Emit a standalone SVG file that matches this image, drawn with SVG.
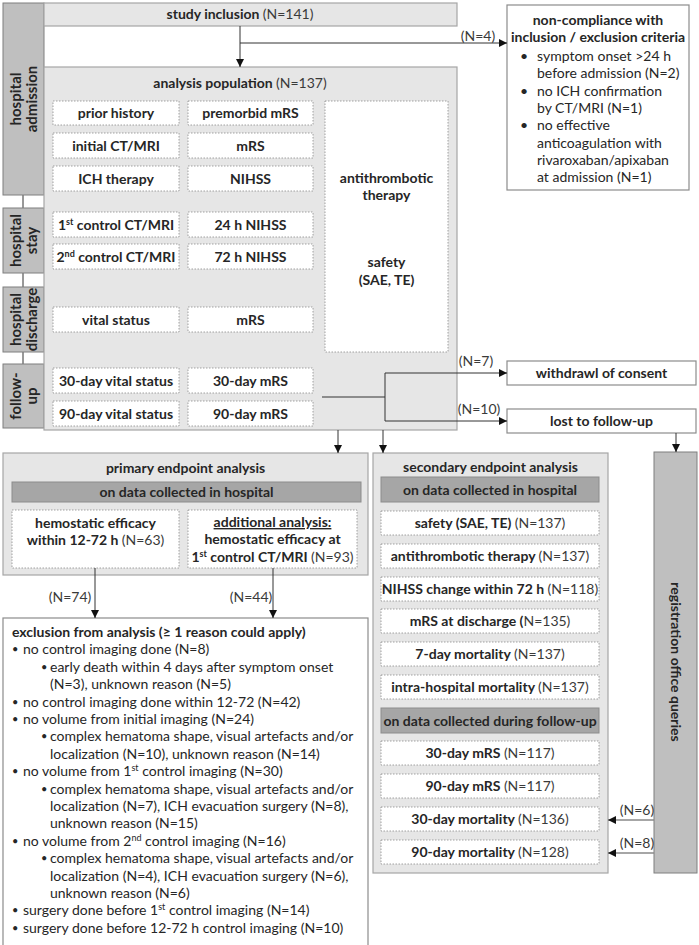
<svg xmlns="http://www.w3.org/2000/svg" width="699" height="945" viewBox="0 0 699 945">
<defs>
<style>
text{font-family:Lato,"Liberation Sans",sans-serif;font-size:14px;fill:#262626}
.b{font-weight:bold}
.n{font-weight:normal;fill:#3a3a3a}
.c{text-anchor:middle}
.sb{fill:#bfbfbf;stroke:#7f7f7f;stroke-width:1}
.st{font-size:15px;font-weight:bold}
.lt{fill:#e6e6e6;stroke:#a6a6a6;stroke-width:1.2}
.dk{fill:#a6a6a6;stroke:#8c8c8c;stroke-width:1}
.dot{fill:#fff;stroke:#8c8c8c;stroke-width:0.8;stroke-dasharray:1.5 1.5}
.wb{fill:#fff;stroke:#8c8c8c;stroke-width:1.2}
.ln{stroke:#333;stroke-width:1;fill:none}
.lg{stroke:#888;stroke-width:1.5;fill:none}
.sup{font-size:9px}
.bu{font-size:11px}
</style>
<marker id="ah" markerWidth="8" markerHeight="8" refX="8" refY="4" orient="auto" markerUnits="userSpaceOnUse">
<path d="M0,0 L8,4 L0,8 z" fill="#111"/>
</marker>
</defs>

<g id="timeline-line"><line class="ln" x1="23" y1="195" x2="23" y2="364"/></g>

<g id="side-admission"><rect class="sb" x="3" y="3" width="41" height="192"/>
<text class="st c" transform="translate(23.5,99) rotate(-90)"><tspan x="0" y="-3">hospital</tspan><tspan x="0" y="13">admission</tspan></text></g>
<g id="side-stay"><rect class="sb" x="3" y="208" width="41" height="65"/>
<text class="st c" transform="translate(23.5,240.5) rotate(-90)"><tspan x="0" y="-3">hospital</tspan><tspan x="0" y="13">stay</tspan></text></g>
<g id="side-discharge"><rect class="sb" x="3" y="287" width="41" height="65"/>
<text class="st c" transform="translate(23.5,319.5) rotate(-90)"><tspan x="0" y="-3">hospital</tspan><tspan x="0" y="13">discharge</tspan></text></g>
<g id="side-followup"><rect class="sb" x="3" y="364" width="41" height="64"/>
<text class="st c" transform="translate(23.5,396) rotate(-90)"><tspan x="0" y="-3">follow-</tspan><tspan x="0" y="13">up</tspan></text></g>

<g id="study-inclusion"><rect class="lt" x="44" y="3" width="413" height="23"/>
<text class="c" x="240" y="19"><tspan class="b">study inclusion </tspan><tspan class="n">(N=141)</tspan></text></g>

<g id="noncompliance"><rect class="wb" x="507" y="5" width="182" height="185"/>
<text class="b c" x="598" y="25">non-compliance with</text>
<text class="b c" x="598" y="42">inclusion / exclusion criteria</text>
<text x="520" y="61">•</text><text x="537" y="61">symptom onset &gt;24 h</text>
<text x="537" y="78">before admission (N=2)</text>
<text x="520" y="96">•</text><text x="537" y="96">no ICH confirmation</text>
<text x="537" y="113">by CT/MRI (N=1)</text>
<text x="520" y="130">•</text><text x="537" y="130">no effective</text>
<text x="537" y="148">anticoagulation with</text>
<text x="537" y="165">rivaroxaban/apixaban</text>
<text x="537" y="182">at admission (N=1)</text></g>

<g id="analysis-population"><rect class="lt" x="44" y="67" width="413" height="363"/>
<text class="c" x="240" y="88"><tspan class="b">analysis population </tspan><tspan class="n">(N=137)</tspan></text>
<rect class="dot" x="53" y="101" width="126" height="24"/><text class="b c" x="116" y="118">prior history</text>
<rect class="dot" x="188" y="101" width="125" height="24"/><text class="b c" x="250.5" y="118">premorbid mRS</text>
<rect class="dot" x="53" y="133" width="126" height="25"/><text class="b c" x="116" y="150.5">initial CT/MRI</text>
<rect class="dot" x="188" y="133" width="125" height="25"/><text class="b c" x="250.5" y="150.5">mRS</text>
<rect class="dot" x="53" y="166" width="126" height="25"/><text class="b c" x="116" y="183.5">ICH therapy</text>
<rect class="dot" x="188" y="166" width="125" height="25"/><text class="b c" x="250.5" y="183.5">NIHSS</text>
<rect class="dot" x="325" y="101" width="123" height="251"/>
<text class="b c" x="386.5" y="183">antithrombotic</text>
<text class="b c" x="386.5" y="200">therapy</text>
<text class="b c" x="386.5" y="267">safety</text>
<text class="b c" x="386.5" y="285">(SAE, TE)</text>
<rect class="dot" x="53" y="212" width="126" height="25"/><text class="b c" x="116" y="229.5">1<tspan class="sup" dy="-5">st</tspan><tspan dy="5"> control CT/MRI</tspan></text>
<rect class="dot" x="188" y="212" width="125" height="25"/><text class="b c" x="250.5" y="229.5">24 h NIHSS</text>
<rect class="dot" x="53" y="244" width="126" height="25"/><text class="b c" x="116" y="261.5">2<tspan class="sup" dy="-5">nd</tspan><tspan dy="5"> control CT/MRI</tspan></text>
<rect class="dot" x="188" y="244" width="125" height="25"/><text class="b c" x="250.5" y="261.5">72 h NIHSS</text>
<rect class="dot" x="53" y="307" width="126" height="25"/><text class="b c" x="116" y="324.5">vital status</text>
<rect class="dot" x="188" y="307" width="125" height="25"/><text class="b c" x="250.5" y="324.5">mRS</text>
<rect class="dot" x="53" y="368" width="126" height="25"/><text class="b c" x="116" y="385.5">30-day vital status</text>
<rect class="dot" x="188" y="368" width="125" height="25"/><text class="b c" x="250.5" y="385.5">30-day mRS</text>
<rect class="dot" x="53" y="401" width="126" height="25"/><text class="b c" x="116" y="418.5">90-day vital status</text>
<rect class="dot" x="188" y="401" width="125" height="25"/><text class="b c" x="250.5" y="418.5">90-day mRS</text></g>

<g id="withdrawal"><rect class="wb" x="507" y="361" width="189" height="24"/>
<text class="b c" x="601.5" y="378">withdrawl of consent</text></g>
<g id="lost"><rect class="wb" x="507" y="409" width="189" height="24"/>
<text class="b c" x="601.5" y="426">lost to follow-up</text></g>

<g id="primary"><rect class="lt" x="3" y="453" width="365" height="122"/>
<text class="b c" x="185.5" y="473">primary endpoint analysis</text>
<rect class="dk" x="12" y="482" width="349" height="20"/>
<text class="b c" x="186.5" y="497">on data collected in hospital</text>
<rect class="dot" x="12" y="510" width="167" height="58"/>
<text class="b c" x="95.5" y="528">hemostatic efficacy</text>
<text class="c" x="95.5" y="545"><tspan class="b">within 12-72 h </tspan><tspan class="n">(N=63)</tspan></text>
<rect class="dot" x="188" y="510" width="169" height="58"/>
<text class="b c" x="272.5" y="527" text-decoration="underline">additional analysis:</text>
<text class="b c" x="272.5" y="544">hemostatic efficacy at</text>
<text class="c" x="272.5" y="562"><tspan class="b">1<tspan class="sup" dy="-5">st</tspan><tspan dy="5"> control CT/MRI </tspan></tspan><tspan class="n">(N=93)</tspan></text></g>

<g id="exclusion"><rect class="wb" x="3" y="618" width="365" height="340"/>
<text class="b" x="12" y="637">exclusion from analysis (≥ 1 reason could apply)</text>
<text class="bu" x="12" y="653.4">•</text><text x="23" y="654.4">no control imaging done (N=8)</text>
<text class="bu" x="41" y="670.8">•</text><text x="50" y="671.8">early death within 4 days after symptom onset</text>
<text x="50" y="689.2">(N=3), unknown reason (N=5)</text>
<text class="bu" x="12" y="705.6">•</text><text x="23" y="706.6">no control imaging done within 12-72 (N=42)</text>
<text class="bu" x="12" y="723">•</text><text x="23" y="724">no volume from initial imaging (N=24)</text>
<text class="bu" x="41" y="740.4">•</text><text x="50" y="741.4">complex hematoma shape, visual artefacts and/or</text>
<text x="50" y="758.8">localization (N=10), unknown reason (N=14)</text>
<text class="bu" x="12" y="775.2">•</text><text x="23" y="776.2">no volume from 1<tspan class="sup" dy="-5">st</tspan><tspan dy="5"> control imaging (N=30)</tspan></text>
<text class="bu" x="41" y="792.6">•</text><text x="50" y="793.6">complex hematoma shape, visual artefacts and/or</text>
<text x="50" y="811">localization (N=7), ICH evacuation surgery (N=8),</text>
<text x="50" y="828.4">unknown reason (N=15)</text>
<text class="bu" x="12" y="844.8">•</text><text x="23" y="845.8">no volume from 2<tspan class="sup" dy="-5">nd</tspan><tspan dy="5"> control imaging (N=16)</tspan></text>
<text class="bu" x="41" y="862.2">•</text><text x="50" y="863.2">complex hematoma shape, visual artefacts and/or</text>
<text x="50" y="880.6">localization (N=4), ICH evacuation surgery (N=6),</text>
<text x="50" y="898">unknown reason (N=6)</text>
<text class="bu" x="12" y="914.4">•</text><text x="23" y="915.4">surgery done before 1<tspan class="sup" dy="-5">st</tspan><tspan dy="5"> control imaging (N=14)</tspan></text>
<text class="bu" x="12" y="931.8">•</text><text x="23" y="932.8">surgery done before 12-72 h control imaging (N=10)</text></g>

<g id="secondary"><rect class="lt" x="373" y="453" width="235" height="420"/>
<text class="b c" x="490.5" y="472">secondary endpoint analysis</text>
<rect class="dk" x="381" y="477" width="218" height="25"/>
<text class="b c" x="490" y="494.5">on data collected in hospital</text>
<rect class="dot" x="381" y="511" width="218" height="24"/><text class="c" x="490" y="528"><tspan class="b">safety (SAE, TE) </tspan><tspan class="n">(N=137)</tspan></text>
<rect class="dot" x="381" y="544" width="218" height="24"/><text class="c" x="490" y="561"><tspan class="b">antithrombotic therapy </tspan><tspan class="n">(N=137)</tspan></text>
<rect class="dot" x="381" y="577" width="218" height="24"/><text class="c" x="490" y="594"><tspan class="b">NIHSS change within 72 h </tspan><tspan class="n">(N=118)</tspan></text>
<rect class="dot" x="381" y="609" width="218" height="24"/><text class="c" x="490" y="626"><tspan class="b">mRS at discharge (</tspan><tspan class="n">N=135)</tspan></text>
<rect class="dot" x="381" y="642" width="218" height="24"/><text class="c" x="490" y="659"><tspan class="b">7-day mortality </tspan><tspan class="n">(N=137)</tspan></text>
<rect class="dot" x="381" y="675" width="218" height="24"/><text class="c" x="490" y="692"><tspan class="b">intra-hospital mortality </tspan><tspan class="n">(N=137)</tspan></text>
<rect class="dk" x="381" y="708" width="218" height="25"/>
<text class="b c" x="490" y="725.5">on data collected during follow-up</text>
<rect class="dot" x="381" y="741" width="218" height="24"/><text class="c" x="490" y="758"><tspan class="b">30-day mRS </tspan><tspan class="n">(N=117)</tspan></text>
<rect class="dot" x="381" y="774" width="218" height="24"/><text class="c" x="490" y="791"><tspan class="b">90-day mRS </tspan><tspan class="n">(N=117)</tspan></text>
<rect class="dot" x="381" y="807" width="218" height="24"/><text class="c" x="490" y="824"><tspan class="b">30-day mortality </tspan><tspan class="n">(N=136)</tspan></text>
<rect class="dot" x="381" y="840" width="218" height="24"/><text class="c" x="490" y="857"><tspan class="b">90-day mortality </tspan><tspan class="n">(N=128)</tspan></text></g>

<g id="registration"><rect class="sb" x="654" y="452" width="43" height="421"/>
<text class="b c" transform="translate(676,662) rotate(90)" x="0" y="5">registration office queries</text></g>

<g id="connectors">
<line class="ln" x1="240" y1="26" x2="240" y2="67" marker-end="url(#ah)"/>
<line class="ln" x1="240" y1="43" x2="507" y2="43" marker-end="url(#ah)"/>
<text class="n c" x="478" y="41">(N=4)</text>
<polyline class="ln" points="322,397 385,397"/>
<line class="ln" x1="385" y1="373" x2="385" y2="421"/>
<line class="ln" x1="385" y1="373" x2="507" y2="373" marker-end="url(#ah)"/>
<line class="ln" x1="385" y1="421" x2="507" y2="421" marker-end="url(#ah)"/>
<text class="n c" x="476" y="366">(N=7)</text>
<text class="n c" x="479" y="414">(N=10)</text>
<line class="ln" x1="338" y1="430" x2="338" y2="453" marker-end="url(#ah)"/>
<line class="ln" x1="383" y1="430" x2="383" y2="453" marker-end="url(#ah)"/>
<line class="ln" x1="676" y1="433" x2="676" y2="452" marker-end="url(#ah)"/>
<line class="ln" x1="95" y1="568" x2="95" y2="618" marker-end="url(#ah)"/>
<line class="ln" x1="273" y1="568" x2="273" y2="618" marker-end="url(#ah)"/>
<text class="n c" x="70" y="602">(N=74)</text>
<text class="n c" x="251" y="602">(N=44)</text>
<line class="lg" x1="654" y1="820" x2="608" y2="820" marker-end="url(#ah)"/>
<line class="lg" x1="654" y1="853" x2="608" y2="853" marker-end="url(#ah)"/>
<text class="n c" x="637" y="815">(N=6)</text>
<text class="n c" x="637" y="848">(N=8)</text>
</g>
</svg>
